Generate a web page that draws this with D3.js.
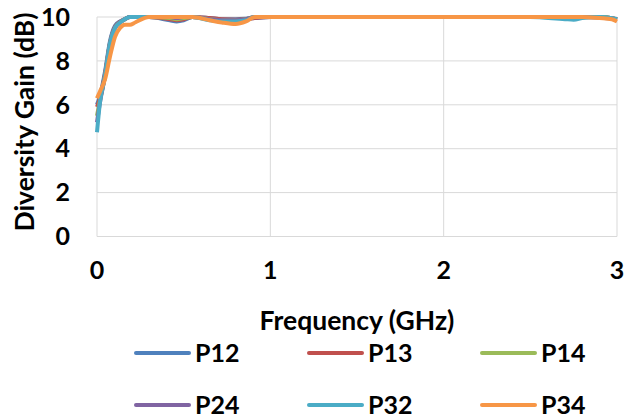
<!DOCTYPE html>
<html>
<head>
  <title>Diversity Gain</title>
  <script src="https://d3js.org/d3.v7.min.js"></script>
  <style>
    body { margin: 0; background: #fff; }
    text { font-family: Lato, "Open Sans", sans-serif; font-weight: bold; fill: #000; }
  </style>
</head>
<body>
<svg width="625" height="419"></svg>
<script>
  // frequency points (GHz)
  const freq = [0, 0.017, 0.046, 0.075, 0.104, 0.133, 0.16, 0.19, 0.22, 0.3, 0.42, 0.46, 0.5, 0.55, 0.65, 0.72, 0.8, 0.86, 0.91, 1.0, 1.5, 2.0, 2.5, 2.7, 2.75, 2.8, 2.9, 2.97, 3.0];

  const p12 = [6.0, 6.4, 7.5, 8.9, 9.6, 9.8, 9.9, 10, 10, 10, 9.85, 9.8, 9.85, 10, 9.95, 9.9, 9.9, 9.92, 9.95, 10, 10, 10, 10, 10, 10, 10, 10, 9.95, 9.9];
  const p13 = [5.9, 6.3, 7.4, 8.8, 9.55, 9.78, 9.9, 10, 10, 10, 9.9, 9.85, 9.9, 10, 9.95, 9.9, 9.88, 9.9, 9.95, 10, 10, 10, 10, 10, 10, 10, 10, 9.95, 9.9];
  const p14 = [5.5, 6.2, 7.3, 8.8, 9.5, 9.75, 9.9, 10, 10, 10, 9.95, 9.9, 9.95, 10, 9.9, 9.85, 9.85, 9.9, 10, 10, 10, 10, 10, 10, 10, 10, 10, 9.95, 9.9];
  const p24 = [5.2, 6.1, 7.3, 8.8, 9.5, 9.75, 9.9, 10, 10, 10, 10, 9.95, 10, 10, 9.9, 9.85, 9.85, 9.9, 10, 10, 10, 10, 10, 10, 10, 10, 9.97, 9.93, 9.9];
  const p32 = [4.75, 6.1, 7.3, 8.8, 9.5, 9.75, 9.9, 10, 10, 10, 10, 10, 10, 10, 9.85, 9.8, 9.8, 9.85, 10, 10, 10, 10, 10, 9.9, 9.88, 9.95, 10, 9.95, 9.9];
  const p34 = [6.3, 6.6, 7.15, 8.2, 9.1, 9.5, 9.65, 9.65, 9.75, 10, 10, 10, 10, 10, 9.85, 9.75, 9.68, 9.8, 10, 10, 10, 10, 10, 10, 10, 10, 9.95, 9.9, 9.8];

  const names = ["P12", "P13", "P14", "P24", "P32", "P34"];
  const colors = ["#4f81bd", "#c0504d", "#9bbb59", "#8064a2", "#4bacc6", "#f79646"];
  const series = [p12, p13, p14, p24, p32, p34];

  const xTicks = [0, 1, 2, 3];
  const yTicks = [0, 2, 4, 6, 8, 10];

  const svg = d3.select("svg");

  const x = d3.scaleLinear().domain([0, 3]).range([97, 617]);
  const y = d3.scaleLinear().domain([0, 10]).range([236.5, 17]);

  // gridlines
  svg.append("g").selectAll("line")
    .data(yTicks).enter().append("line")
    .attr("x1", x(0)).attr("x2", x(3))
    .attr("y1", d => y(d)).attr("y2", d => y(d))
    .attr("stroke", "#d9d9d9").attr("stroke-width", 1);
  svg.append("g").selectAll("line")
    .data(xTicks).enter().append("line")
    .attr("x1", d => x(d)).attr("x2", d => x(d))
    .attr("y1", y(0)).attr("y2", y(10))
    .attr("stroke", "#d9d9d9").attr("stroke-width", 1);

  // tick labels
  svg.append("g").selectAll("text")
    .data(yTicks).enter().append("text")
    .attr("x", 70).attr("y", d => y(d))
    .attr("dy", "0.35em")
    .attr("text-anchor", "end")
    .style("font-size", "25px")
    .text(d => d);
  svg.append("g").selectAll("text")
    .data(xTicks).enter().append("text")
    .attr("x", d => x(d)).attr("y", 270)
    .attr("dy", "0.35em")
    .attr("text-anchor", "middle")
    .style("font-size", "25px")
    .text(d => d);

  // lines
  const line = d3.line()
    .x((d, i) => x(freq[i]))
    .y(d => y(d))
    .curve(d3.curveMonotoneX);

  svg.append("g").selectAll("path")
    .data(series).enter().append("path")
    .attr("d", d => line(d))
    .attr("fill", "none")
    .attr("stroke", (d, i) => colors[i])
    .attr("stroke-width", 4)
    .attr("stroke-linejoin", "round");

  // axis titles
  svg.append("text")
    .attr("x", 357).attr("y", 321)
    .attr("dy", "0.35em")
    .attr("text-anchor", "middle")
    .style("font-size", "26.5px")
    .text("Frequency (GHz)");
  svg.append("text")
    .attr("transform", "translate(25,122) rotate(-90)")
    .attr("dy", "0.35em")
    .attr("text-anchor", "middle")
    .style("font-size", "26.5px")
    .text("Diversity Gain (dB)");

  // legend
  const legend = svg.append("g").selectAll("g")
    .data(names).enter().append("g")
    .attr("transform", (d, i) => "translate(" + (136 + (i % 3) * 173) + "," + (353 + Math.floor(i / 3) * 52) + ")");
  legend.append("line")
    .attr("x1", 0).attr("x2", 53)
    .attr("stroke", (d, i) => colors[i])
    .attr("stroke-width", 4)
    .attr("stroke-linecap", "round");
  legend.append("text")
    .attr("x", 59)
    .attr("dy", "0.35em")
    .style("font-size", "25px")
    .text(d => d);
</script>
</body>
</html>
